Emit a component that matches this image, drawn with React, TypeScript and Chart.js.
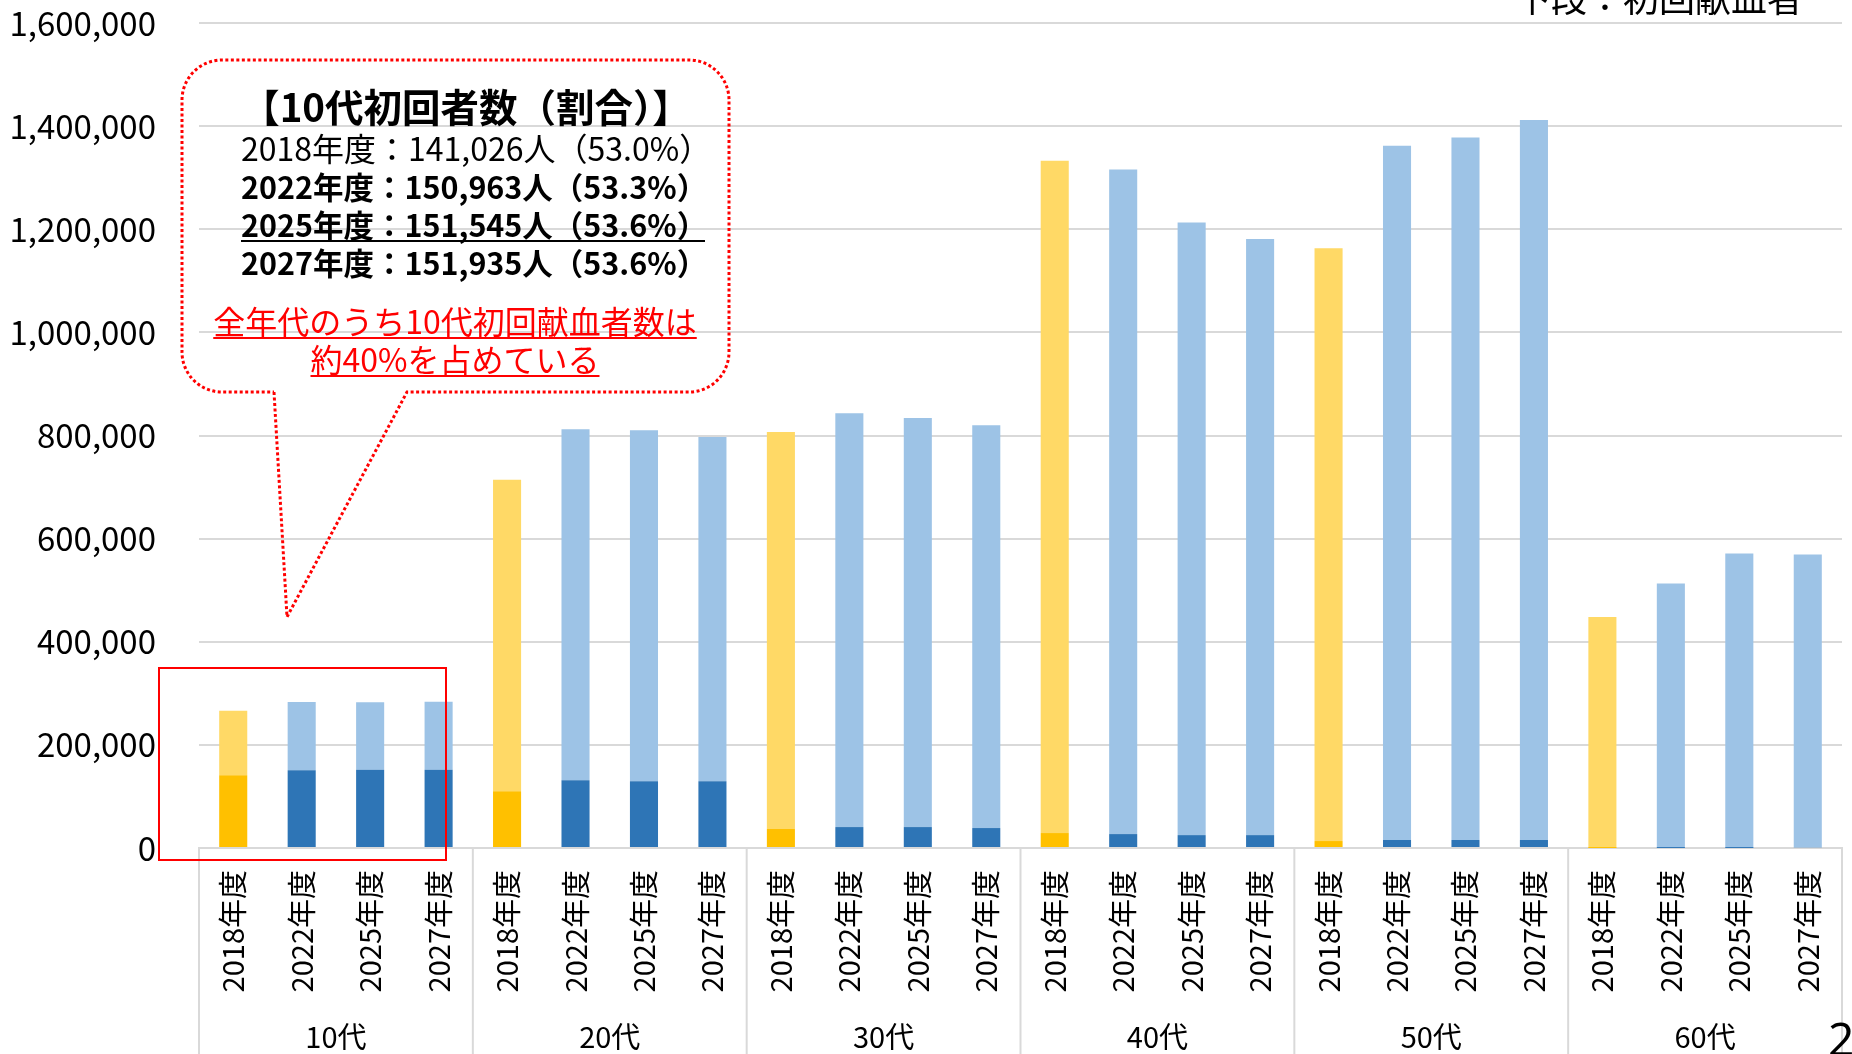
import React, { useEffect, useRef } from "react";
import { Chart, registerables } from "chart.js";

Chart.register(...registerables);

const ageGroups = ["10代", "20代", "30代", "40代", "50代", "60代"];
const fiscalYears = ["2018年度", "2022年度", "2025年度", "2027年度"];

// Total donors per bar (age group x fiscal year)
const totalDonors = [
  266087, 283233, 282733, 283461,
  714000, 812000, 810000, 797000,
  807000, 843000, 834000, 820000,
  1333000, 1316000, 1213000, 1181000,
  1163000, 1362000, 1378000, 1412000,
  448000, 513000, 571000, 569000,
];

// First-time donors (lower segment)
const firstTimeDonors = [
  141026, 150963, 151545, 151935,
  110000, 131500, 129600, 129600,
  36800, 40600, 40600, 38700,
  29000, 27000, 25000, 25000,
  13500, 15500, 15500, 15500,
  100, 150, 150, 1500,
];

const yTicks = [0, 200000, 400000, 600000, 800000, 1000000, 1200000, 1400000, 1600000];

const headerText = "下段：初回献血者";
const calloutTitle = "【10代初回者数（割合）】";
const calloutLines = [
  "2018年度：141,026人（53.0%）",
  "2022年度：150,963人（53.3%）",
  "2025年度：151,545人（53.6%）",
  "2027年度：151,935人（53.6%）",
];
const calloutNote = ["全年代のうち10代初回献血者数は", "約40%を占めている"];
const pageNumber = "2";

const FONT = "'Noto Sans CJK JP', 'Noto Sans', sans-serif";

const isBase = (i: number) => i % 4 === 0;

const overlayPlugin = {
  id: "overlay",
  afterDraw(chart: any) {
    const ctx = chart.ctx as CanvasRenderingContext2D;
    const xs = chart.scales.x;
    const area = chart.chartArea;
    ctx.save();

    // category group separators
    ctx.strokeStyle = "#D9D9D9";
    ctx.lineWidth = 2;
    const n = xs.ticks.length;
    const step = xs.getPixelForValue(1) - xs.getPixelForValue(0);
    for (let g = 0; g <= ageGroups.length; g++) {
      const x = g * 4 < n ? xs.getPixelForValue(g * 4) - step / 2 : xs.getPixelForValue(n - 1) + step / 2;
      ctx.beginPath();
      ctx.moveTo(x, area.bottom);
      ctx.lineTo(x, chart.height);
      ctx.stroke();
    }

    // group labels
    ctx.fillStyle = "#000";
    ctx.font = `29px ${FONT}`;
    ctx.textAlign = "center";
    ctx.textBaseline = "middle";
    ageGroups.forEach((g, i) => {
      const cx = (xs.getPixelForValue(i * 4 + 1) + xs.getPixelForValue(i * 4 + 2)) / 2;
      ctx.fillText(g, cx, 1037);
    });

    // header (partially cut at top)
    ctx.textAlign = "left";
    ctx.textBaseline = "alphabetic";
    ctx.font = `36px ${FONT}`;
    ctx.fillText(headerText, 1515, 12);

    // page number
    ctx.font = `46px 'Noto Sans', sans-serif`;
    ctx.fillText(pageNumber, 1828, 1056);

    // red highlight rectangle
    ctx.strokeStyle = "#FF0000";
    ctx.lineWidth = 2;
    ctx.strokeRect(159, 668, 287, 192);

    // callout bubble
    const L = 182, T = 60, R = 729, B = 392, r = 40;
    const p1 = 274, p2 = 407, tipX = 287, tipY = 617;
    ctx.lineWidth = 3;
    ctx.setLineDash([3, 2.5]);
    ctx.beginPath();
    ctx.moveTo(p1, B);
    ctx.lineTo(tipX, tipY);
    ctx.lineTo(p2, B);
    ctx.lineTo(R - r, B);
    ctx.arcTo(R, B, R, B - r, r);
    ctx.lineTo(R, T + r);
    ctx.arcTo(R, T, R - r, T, r);
    ctx.lineTo(L + r, T);
    ctx.arcTo(L, T, L, T + r, r);
    ctx.lineTo(L, B - r);
    ctx.arcTo(L, B, L + r, B, r);
    ctx.lineTo(p1, B);
    ctx.stroke();
    ctx.setLineDash([]);

    // callout text
    ctx.fillStyle = "#000";
    ctx.textBaseline = "middle";
    ctx.textAlign = "center";
    ctx.font = `bold 38.5px ${FONT}`;
    ctx.fillText(calloutTitle, 466, 107);

    ctx.textAlign = "left";
    const lineY = [149, 187, 225, 263];
    calloutLines.forEach((t, i) => {
      ctx.font = i === 0 ? `32px ${FONT}` : `bold 30.5px ${FONT}`;
      ctx.fillText(t, 241, lineY[i]);
    });
    ctx.strokeStyle = "#000";
    ctx.lineWidth = 2;
    ctx.beginPath();
    ctx.moveTo(241, 241);
    ctx.lineTo(705, 241);
    ctx.stroke();

    ctx.fillStyle = "#FF0000";
    ctx.strokeStyle = "#FF0000";
    ctx.textAlign = "center";
    ctx.font = `32px ${FONT}`;
    const noteY = [322, 360];
    calloutNote.forEach((t, i) => {
      ctx.fillText(t, 455, noteY[i]);
      const w = ctx.measureText(t).width;
      ctx.lineWidth = 2;
      ctx.beginPath();
      ctx.moveTo(455 - w / 2, noteY[i] + 16);
      ctx.lineTo(455 + w / 2, noteY[i] + 16);
      ctx.stroke();
    });

    ctx.restore();
  },
};

export default function App() {
  const canvasRef = useRef<HTMLCanvasElement | null>(null);

  useEffect(() => {
    document.body.style.margin = "0";
    const canvas = canvasRef.current;
    if (!canvas) return;
    const labels = ageGroups.flatMap(() => fiscalYears);
    const repeatData = totalDonors.map((t, i) => t - firstTimeDonors[i]);
    const chart = new Chart(canvas, {
      type: "bar",
      data: {
        labels,
        datasets: [
          {
            label: "初回献血者",
            data: firstTimeDonors,
            backgroundColor: firstTimeDonors.map((_, i) => (isBase(i) ? "#FFC000" : "#2E75B6")),
            borderWidth: 0,
            barPercentage: 0.41,
            categoryPercentage: 1.0,
          },
          {
            label: "再来献血者",
            data: repeatData,
            backgroundColor: repeatData.map((_, i) => (isBase(i) ? "#FFD966" : "#9DC3E6")),
            borderWidth: 0,
            barPercentage: 0.41,
            categoryPercentage: 1.0,
          },
        ],
      },
      options: {
        responsive: false,
        animation: false,
        devicePixelRatio: 1,
        layout: { padding: { top: 23, right: 10, left: 0, bottom: 0 } },
        plugins: {
          legend: { display: false },
          tooltip: { enabled: false },
          title: { display: false },
        },
        scales: {
          x: {
            stacked: true,
            grid: { display: false, drawTicks: false },
            border: { display: true, color: "#D9D9D9", width: 2 },
            ticks: {
              autoSkip: false,
              minRotation: 90,
              maxRotation: 90,
              padding: 22,
              color: "#000",
              font: { family: FONT, size: 29 },
            },
            afterFit: (s: any) => {
              s.height = 206;
              s.paddingLeft = 0;
              s.paddingRight = 0;
            },
          },
          y: {
            stacked: true,
            min: yTicks[0],
            max: yTicks[yTicks.length - 1],
            afterBuildTicks: (s: any) => {
              s.ticks = yTicks.map((v) => ({ value: v }));
            },
            ticks: {
              padding: 43,
              color: "#000",
              font: { family: FONT, size: 33 },
              callback: (v: any) => Number(v).toLocaleString("en-US"),
            },
            grid: { color: "#D9D9D9", lineWidth: 2, drawTicks: false },
            border: { display: false },
            afterFit: (s: any) => {
              s.width = 199;
              s.paddingTop = 0;
              s.paddingBottom = 0;
            },
          },
        },
      },
      plugins: [overlayPlugin],
    });
    return () => chart.destroy();
  }, []);

  return (
    <div style={{ position: "absolute", left: 0, top: 0, width: 1852, height: 1054, background: "#fff" }}>
      <canvas ref={canvasRef} width={1852} height={1054} style={{ width: 1852, height: 1054, display: "block" }} />
    </div>
  );
}
